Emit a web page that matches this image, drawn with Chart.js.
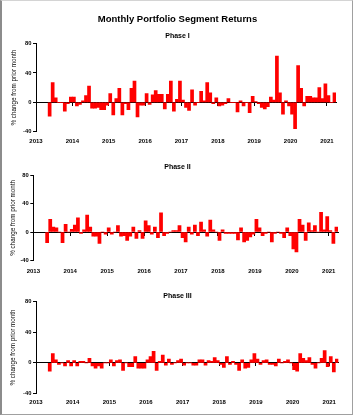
<!DOCTYPE html>
<html>
<head>
<meta charset="utf-8">
<script src="https://cdn.jsdelivr.net/npm/chart.js@4.4.1/dist/chart.umd.min.js"></script>
<style>
html, body { margin: 0; padding: 0; background: #ffffff; }
#frame { position: absolute; left: 0; top: 0; width: 350px; height: 413px;
  border-left: 2px solid #8c8c8c; border-top: 1px solid #d4d4d4;
  border-right: 1px solid #a0a0a0; border-bottom: 1px solid #a0a0a0; }
canvas { position: absolute; left: 0; }
</style>
</head>
<body>
<div id="frame"></div>
<canvas id="c1" width="355" height="150" style="top:0px"></canvas>
<canvas id="c2" width="355" height="132" style="top:150px"></canvas>
<canvas id="c3" width="355" height="134" style="top:282px"></canvas>
<script>
// ---- data (months counted from Jan 2013 = 0; first value is May 2013) ----
const startMonth = 4;
const yearLabels = ['2013', '2014', '2015', '2016', '2017', '2018', '2019', '2020', '2021'];
const yTickValues = [-40, 0, 40, 80];
const mainTitle = 'Monthly Portfolio Segment Returns';
const panelTitles = ['Phase I', 'Phase II', 'Phase III'];
const yAxisTitle = '% change from prior month';

const phase1 = [
  -19, 27, 6, 0, 0, -12, -2, 7, 7, -5, -3, 2, 9, 22, -8, -8, -7, -10, -10, -4,
  12, -17, 5, 19, -17, -2, -10, 19, 29, -20, -4, -4, 12, -3, 10, 16, 11, 11, -9, 11,
  29, -12, 4, 29, 3, -7, -11, 17, -4, 0, 15, 2, 27, 13, -2, 6, -5, -4, -2, 5,
  0, 0, -13, 2, -5, 0, -14, 8, 1, -2, -7, -9, -6, 7, 3, 63, 13, -16, 2, -5,
  -16, -36, 50, 19, -5, 8, 8, 6, 6, 20, 5, 25, 9, 0, 13
];
const phase2 = [
  -15, 18, 7, 6, 0, -15, 11, 0, 4, 10, 20, -2, 3, 24, 7, -6, -6, -16, 0, -3,
  6, -3, 0, 9, -6, -5, -12, -6, 7, -9, 2, -9, 16, 9, -3, 7, -8, 27, -5, -2,
  0, 2, 2, 9, -8, -14, 7, -3, 10, -5, 14, 3, -6, 17, 3, 0, -12, 3, -2, -2,
  -2, -2, -11, 6, -14, -12, -7, -3, 18, 6, -5, -2, 0, -14, -2, 0, -2, -8, 6, -5,
  -24, -28, 18, 10, -12, 13, 2, 9, 0, 28, 3, 22, 2, -16, 7
];
const phase3 = [
  -11, 12, 4, -2, 0, -4, 3, -4, 3, -4, 2, 2, 0, 6, -4, -7, -4, -7, 0, 0,
  4, -4, 3, 4, -10, 0, -5, -5, 8, -7, -7, -7, 4, 8, 15, -10, 2, 10, -3, 5,
  -2, 0, 3, 5, -3, 0, 0, -3, -3, 4, 4, -3, 3, 2, 7, 3, -2, -6, 8, -2,
  2, -2, -10, 4, -7, -6, 4, 12, 5, -2, 3, 4, -2, -2, -4, 5, 0, 2, 4, 0,
  -9, -11, 12, 6, 3, 7, -2, -7, 0, 6, 16, -5, 8, -12, 5
];

// ---- rendering ----
const FONT = "'Liberation Sans', Arial, sans-serif";
Chart.defaults.font.family = FONT;
Chart.defaults.color = '#000';

function yearTickList() {
  return yearLabels.map((_, i) => ({ value: i * 12 }));
}

function panel(canvasId, values, L) {
  const points = values.map((v, i) => ({ x: startMonth + i + 0.5, y: v }));
  const plugins = { legend: { display: false }, tooltip: { enabled: false } };
  if (L.main) {
    plugins.title = { display: true, text: L.main, color: '#000',
      font: { family: FONT, size: 9.5, weight: 'bold', lineHeight: 1.2 },
      padding: { top: L.tTop, bottom: L.tBottom } };
    plugins.subtitle = { display: true, text: L.sub, color: '#000',
      font: { family: FONT, size: 7, weight: 'bold', lineHeight: 1.2 },
      padding: { top: 0, bottom: L.sBottom } };
  } else {
    plugins.title = { display: true, text: L.sub, color: '#000',
      font: { family: FONT, size: 7, weight: 'bold', lineHeight: 1.2 },
      padding: { top: L.tTop, bottom: L.sBottom } };
  }
  return new Chart(document.getElementById(canvasId), {
    type: 'bar',
    data: { datasets: [{ data: points, backgroundColor: '#ff0000', borderWidth: 0,
      barPercentage: 1, categoryPercentage: 1, xAxisID: 'x', yAxisID: 'y' }] },
    options: {
      responsive: false, animation: false, devicePixelRatio: 1,
      layout: { padding: 0 },
      plugins,
      scales: {
        x: {
          type: 'linear', position: 'bottom', min: 0, max: 99, offset: false,
          afterBuildTicks: s => { s.ticks = yearTickList(); },
          afterFit: s => { s.height = L.xh; },
          grid: { display: false, drawTicks: false, tickLength: 0, offset: false },
          border: { display: false },
          ticks: { autoSkip: false, maxRotation: 0, minRotation: 0, padding: L.xPad, color: '#000',
            font: { family: FONT, size: 6, weight: 'bold' },
            callback: v => yearLabels[Math.round(v / 12)] }
        },
        xz: {
          type: 'linear', position: { y: 0 }, min: 0, max: 99, offset: false, z: 1,
          afterBuildTicks: s => { s.ticks = yearTickList(); },
          grid: { display: true, drawOnChartArea: false, drawTicks: true, tickLength: 3, color: '#000', offset: false },
          border: { display: true, color: '#000', width: 1 },
          ticks: { display: false }
        },
        y: {
          type: 'linear', position: 'left', min: -40, max: 80,
          afterBuildTicks: s => { s.ticks = yTickValues.map(v => ({ value: v })); },
          afterFit: s => { s.width = L.yw; },
          grid: { display: true, drawOnChartArea: false, drawTicks: true, tickLength: 3, color: '#000' },
          border: { display: true, color: '#000', width: 1 },
          ticks: { padding: 1.5, color: '#000', font: { family: FONT, size: 5.8, weight: 'bold' } },
          title: { display: true, text: yAxisTitle, color: '#000',
            font: { family: FONT, size: 6.3, lineHeight: 1.2 },
            padding: { top: L.yTitlePad, bottom: 0 } }
        },
        yr: {
          type: 'linear', position: 'right', display: true,
          afterFit: s => { s.width = L.rw; },
          grid: { display: false, drawTicks: false },
          border: { display: false },
          ticks: { display: false }
        }
      }
    }
  });
}

panel('c1', phase1, { main: mainTitle, sub: panelTitles[0], tTop: 13.3, tBottom: 7.1, sBottom: 3.3,
  xh: 18.3, xPad: 6.1, yw: 36, rw: 19, yTitlePad: 10.2 });
panel('c2', phase2, { sub: panelTitles[1], tTop: 12.8, sBottom: 4.3,
  xh: 21.7, xPad: 7.5, yw: 33.3, rw: 17, yTitlePad: 9.5 });
panel('c3', phase3, { sub: panelTitles[2], tTop: 9.8, sBottom: 1.3,
  xh: 22.5, xPad: 5.3, yw: 36, rw: 16.6, yTitlePad: 9.5 });
</script>
</body>
</html>
